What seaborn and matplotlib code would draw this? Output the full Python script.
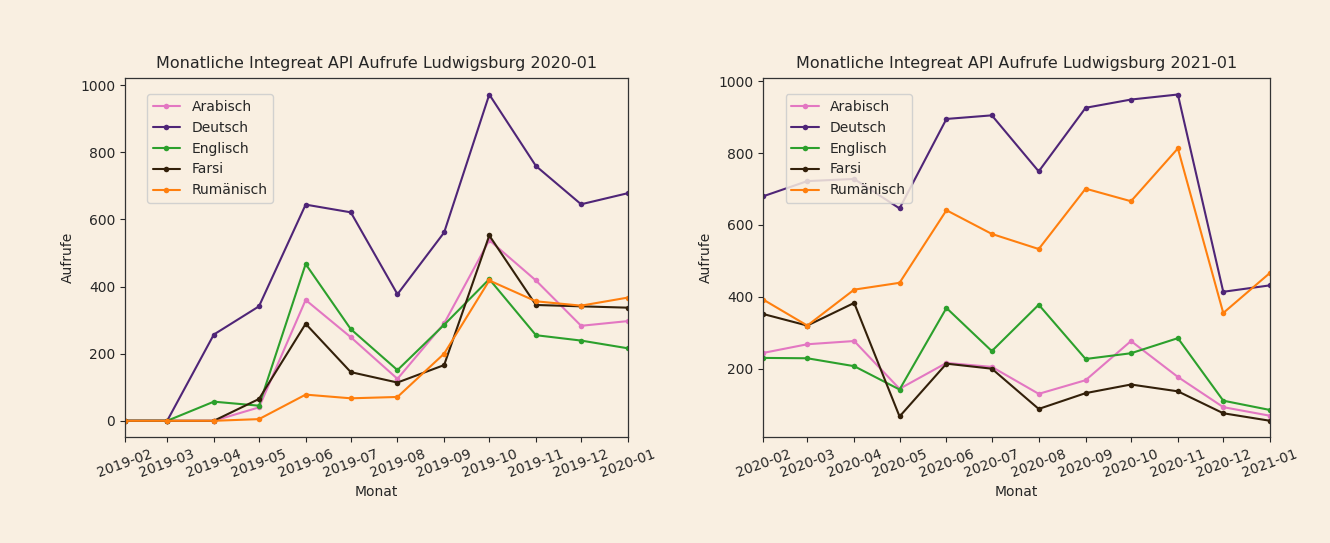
import pandas as pd
import numpy as np
import matplotlib
matplotlib.use("Agg")
import matplotlib.pyplot as plt
import matplotlib.dates as mdates
import seaborn as sns

languages = ["Arabisch", "Deutsch", "Englisch", "Farsi", "Rumänisch"]

months_2020 = ["2019-02", "2019-03", "2019-04", "2019-05", "2019-06", "2019-07",
               "2019-08", "2019-09", "2019-10", "2019-11", "2019-12", "2020-01"]
arabisch_2020 = [0, 0, 0, 40, 360, 249, 125, 290, 538, 418, 283, 297]
deutsch_2020 = [0, 0, 257, 341, 644, 621, 377, 561, 972, 759, 645, 678]
englisch_2020 = [0, 0, 57, 45, 467, 273, 151, 286, 422, 255, 239, 216]
farsi_2020 = [0, 0, 0, 65, 289, 145, 114, 166, 552, 345, 341, 337]
rumaenisch_2020 = [0, 0, 0, 5, 78, 67, 71, 200, 418, 356, 343, 367]

months_2021 = ["2020-02", "2020-03", "2020-04", "2020-05", "2020-06", "2020-07",
               "2020-08", "2020-09", "2020-10", "2020-11", "2020-12", "2021-01"]
arabisch_2021 = [244, 268, 277, 144, 216, 205, 130, 168, 277, 177, 93, 69]
deutsch_2021 = [680, 722, 728, 646, 895, 905, 749, 926, 949, 963, 414, 432]
englisch_2021 = [230, 229, 207, 142, 369, 249, 378, 227, 243, 285, 111, 85]
farsi_2021 = [352, 320, 383, 67, 214, 200, 88, 132, 156, 137, 76, 55]
rumaenisch_2021 = [392, 320, 420, 439, 641, 575, 533, 701, 666, 813, 355, 467]

titles = ["Monatliche Integreat API Aufrufe Ludwigsburg 2020-01",
          "Monatliche Integreat API Aufrufe Ludwigsburg 2021-01"]

palette = {"Arabisch": "#e377c2", "Deutsch": "#4f2577", "Englisch": "#2ca02c",
           "Farsi": "#33200a", "Rumänisch": "#ff7f0e"}

def make_df(months, series):
    rows = []
    for lang, vals in zip(languages, series):
        for m, v in zip(months, vals):
            rows.append({"Monat": pd.Timestamp(m + "-01"), "Aufrufe": v, "Sprache": lang})
    return pd.DataFrame(rows)

df1 = make_df(months_2020, [arabisch_2020, deutsch_2020, englisch_2020, farsi_2020, rumaenisch_2020])
df2 = make_df(months_2021, [arabisch_2021, deutsch_2021, englisch_2021, farsi_2021, rumaenisch_2021])

bg = "#f9efe1"
sns.set_style("ticks")
plt.rcParams["font.family"] = ["DejaVu Sans"]

fig = plt.figure(figsize=(13.3, 5.43), dpi=100, facecolor=bg)
ax1 = fig.add_axes([0.094, 0.195, 0.378, 0.661])
ax2 = fig.add_axes([0.574, 0.195, 0.381, 0.661])

for ax, df, months, title in [(ax1, df1, months_2020, titles[0]), (ax2, df2, months_2021, titles[1])]:
    ax.set_facecolor(bg)
    sns.lineplot(data=df, x="Monat", y="Aufrufe", hue="Sprache", hue_order=languages,
                 palette=palette, marker="o", markersize=4, markeredgewidth=0,
                 linewidth=1.5, ax=ax)
    dates = [pd.Timestamp(m + "-01") for m in months]
    ax.set_xlim(dates[0], dates[-1])
    ax.set_xticks(dates)
    ax.xaxis.set_major_formatter(mdates.DateFormatter("%Y-%m"))
    ax.tick_params(axis="x", labelrotation=20, labelsize=10)
    ax.tick_params(axis="y", labelsize=10)
    for lab in ax.get_xticklabels():
        lab.set_ha("center")
    ax.set_title(title, fontsize=11.5, pad=7)
    ax.set_xlabel("Monat", fontsize=10)
    ax.set_ylabel("Aufrufe", fontsize=10)
    for s in ax.spines.values():
        s.set_visible(True)
        s.set_color("#333333")
        s.set_linewidth(0.9)
    leg = ax.legend(loc="upper left", bbox_to_anchor=(0.03, 0.975), fontsize=10,
                    frameon=True, facecolor=bg, edgecolor="#cccccc", title=None,
                    framealpha=0.85)

ax1.set_yticks([0, 200, 400, 600, 800, 1000])
ax2.set_yticks([200, 400, 600, 800, 1000])

fig.savefig("out.png", dpi=100, facecolor=bg)
